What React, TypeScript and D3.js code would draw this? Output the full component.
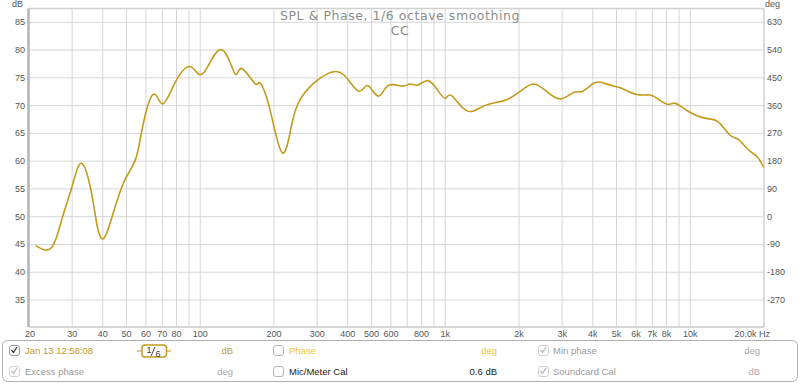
import React from "react";
import * as d3 from "d3";

const FREQ = [21.3, 24.7, 27.3, 30.1, 32.8, 35.9, 37.9, 40.4, 43.9, 46.6, 49.6, 54.6, 58.0, 64.2, 70.2, 79.3, 91.6, 102.7, 121.3, 138.3, 147.3, 167, 175, 192, 216, 236, 255, 290, 333, 384, 443, 482, 533, 584, 667, 717, 773, 849, 930, 1000, 1062, 1220, 1415, 1627, 1790, 2015, 2290, 2600, 2960, 3360, 3640, 4070, 4470, 4990, 5320, 6050, 6860, 7430, 8120, 8710, 9880, 11590, 12970, 14510, 15700, 17310, 18760, 19920];
const SPL = [44.8, 44.4, 49.7, 55.7, 59.6, 54.5, 48.5, 46.1, 50.3, 53.9, 56.9, 60.5, 65.9, 72.0, 70.3, 74.3, 77.0, 75.8, 80.1, 75.8, 76.7, 74.0, 74.1, 69.5, 61.5, 66.5, 71.0, 74.0, 75.8, 75.6, 72.6, 73.6, 71.7, 73.6, 73.5, 73.9, 73.7, 74.5, 72.8, 71.3, 71.8, 69.1, 69.8, 70.6, 71.1, 72.5, 73.9, 72.5, 71.2, 72.4, 72.6, 74.1, 74.0, 73.4, 73.0, 72.0, 71.9, 71.1, 70.2, 70.4, 68.9, 67.7, 67.1, 64.7, 63.9, 62.0, 60.8, 58.9];

const X_TICKS = [20, 30, 40, 50, 60, 70, 80, 100, 200, 300, 400, 500, 600, 800, 1000, 2000, 3000, 4000, 5000, 6000, 7000, 8000, 10000];
const X_TICK_LABELS = ["20", "30", "40", "50", "60", "70", "80", "100", "200", "300", "400", "500", "600", "800", "1k", "2k", "3k", "4k", "5k", "6k", "7k", "8k", "10k"];
const X_GRID = [30, 40, 50, 60, 70, 80, 90, 100, 200, 300, 400, 500, 600, 700, 800, 900, 1000, 2000, 3000, 4000, 5000, 6000, 7000, 8000, 9000, 10000];
const DB_TICKS = [35, 40, 45, 50, 55, 60, 65, 70, 75, 80, 85];
const DEG_TICKS = [-270, -180, -90, 0, 90, 180, 270, 360, 450, 540, 630];

const L = 29, R = 764, T = 8.5, B = 327;
const GOLD = "#c49a1c";
const TICK_FONT = "'Liberation Sans', Arial, sans-serif";

export default function App() {
  const x = d3.scaleLog().domain([20, 20000]).range([L, R]);
  const y = d3.scaleLinear().domain([30.14, 87.48]).range([B, T]);
  const yDeg = d3.scaleLinear().domain([30.14 * 18 - 900, 87.48 * 18 - 900]).range([B, T]);
  const pts: [number, number][] = FREQ.map((f, i) => [f, SPL[i]]);
  const line = d3
    .line<[number, number]>()
    .x((d) => x(d[0]))
    .y((d) => y(d[1]))
    .curve(d3.curveNatural);

  const check = (cx: number, cy: number, color: string) => (
    <path d={`M${cx + 2.5} ${cy + 5} l2 2.5 l3.5 -5.5`} fill="none" stroke={color} strokeWidth={1.3} />
  );
  const box = (bx: number, by: number, stroke: string) => (
    <rect x={bx + 0.5} y={by + 0.5} width={10} height={10} rx={2.5} fill="#fff" stroke={stroke} strokeWidth={1} />
  );
  const legFont = { fontFamily: TICK_FONT, fontSize: 9.5 } as const;
  const titleFont = { fontFamily: "'DejaVu Sans', sans-serif", fontSize: 12.5, letterSpacing: 0.55 } as const;

  return (
    <svg width={800} height={384} style={{ position: "absolute", left: 0, top: 0, background: "#fff" }}>
      <rect x={0} y={0} width={800} height={384} fill="#fff" />
      {/* grid */}
      {DB_TICKS.map((t) => (
        <line key={"h" + t} x1={L} x2={R} y1={y(t)} y2={y(t)} stroke="#d6d6d6" strokeWidth={1} />
      ))}
      {X_GRID.map((f) => (
        <line key={"v" + f} x1={x(f)} x2={x(f)} y1={T} y2={B} stroke="#d6d6d6" strokeWidth={1} />
      ))}
      {/* border */}
      <line x1={L} x2={R} y1={T} y2={T} stroke="#d0d0d0" strokeWidth={1.5} />
      <line x1={R} x2={R} y1={T} y2={B} stroke="#d0d0d0" strokeWidth={1.5} />
      <line x1={L} x2={R} y1={B} y2={B} stroke="#c8c8c8" strokeWidth={1.5} />
      <line x1={L - 0.5} x2={L - 0.5} y1={T} y2={B} stroke="#b4b4b4" strokeWidth={2.5} />

      {/* title */}
      <text x={400} y={20} textAnchor="middle" {...titleFont} fill="#8c8c8c">
        SPL &amp; Phase, 1/6 octave smoothing
      </text>
      <text x={400} y={34.5} textAnchor="middle" {...titleFont} fill="#8c8c8c">
        CC
      </text>

      {/* curve */}
      <path d={line(pts) || ""} fill="none" stroke={GOLD} strokeWidth={1.6} />

      {/* y labels */}
      <text x={12} y={7} fontFamily={TICK_FONT} fontSize={9} fill="#555">dB</text>
      {DB_TICKS.map((t) => (
        <text key={"yl" + t} x={25} y={y(t) + 3} textAnchor="end" fontFamily={TICK_FONT} fontSize={9} fill="#555">
          {t}
        </text>
      ))}
      <text x={765} y={7} fontFamily={TICK_FONT} fontSize={9} fill="#555">deg</text>
      {DEG_TICKS.map((t) => (
        <text key={"dl" + t} x={767} y={yDeg(t) + 3} fontFamily={TICK_FONT} fontSize={9} fill="#555">
          {t}
        </text>
      ))}
      {/* x labels */}
      {X_TICKS.map((f, i) => (
        <text key={"xl" + f} x={x(f) + (i === 0 ? 1 : 0)} y={337} textAnchor="middle" fontFamily={TICK_FONT} fontSize={9} fill="#555">
          {X_TICK_LABELS[i]}
        </text>
      ))}
      <text x={770} y={337} textAnchor="end" fontFamily={TICK_FONT} fontSize={9} fill="#555">
        20.0k Hz
      </text>

      {/* legend */}
      <rect x={2.5} y={340.5} width={795} height={41} rx={5} fill="#fff" stroke="#b0b0b0" strokeWidth={1} />
      {box(9, 345, "#9a9a9a")}
      {check(9, 345, "#333")}
      <text x={25} y={354} {...legFont} fill={GOLD}>Jan 13 12:58:08</text>
      <line x1={137} x2={171} y1={351} y2={351} stroke={GOLD} strokeWidth={1.2} />
      <rect x={142} y={345} width={24.5} height={12} rx={3} fill="#fff" stroke={GOLD} strokeWidth={1.5} />
      <text x={146.5} y={353} fontFamily={TICK_FONT} fontSize={9} fill="#333">1</text>
      <line x1={151} x2={155} y1={356} y2={347} stroke="#333" strokeWidth={0.9} />
      <text x={155.5} y={356.5} fontFamily={TICK_FONT} fontSize={9} fill="#333">6</text>
      <text x={233} y={354} textAnchor="end" {...legFont} fill={GOLD}>dB</text>

      {box(273, 345, "#b5b5b5")}
      <text x={289} y={354} {...legFont} fill="#f5c232">Phase</text>
      <text x={497} y={354} textAnchor="end" {...legFont} fill="#f5c232">deg</text>

      {box(538, 345, "#cfcfcf")}
      {check(538, 345, "#b8b8b8")}
      <text x={553} y={354} {...legFont} fill="#999">Min phase</text>
      <text x={760} y={354} textAnchor="end" {...legFont} fill="#aaa">deg</text>

      {box(9, 366, "#cfcfcf")}
      {check(9, 366, "#b8b8b8")}
      <text x={25} y={375} {...legFont} fill="#999">Excess phase</text>
      <text x={233} y={375} textAnchor="end" {...legFont} fill="#aaa">deg</text>

      {box(273, 366, "#b5b5b5")}
      <text x={289} y={375} {...legFont} fill="#222">Mic/Meter Cal</text>
      <text x={497} y={375} textAnchor="end" {...legFont} fill="#222">0.6 dB</text>

      {box(538, 366, "#cfcfcf")}
      {check(538, 366, "#b8b8b8")}
      <text x={553} y={375} {...legFont} fill="#999">Soundcard Cal</text>
      <text x={760} y={375} textAnchor="end" {...legFont} fill="#aaa">dB</text>
    </svg>
  );
}
